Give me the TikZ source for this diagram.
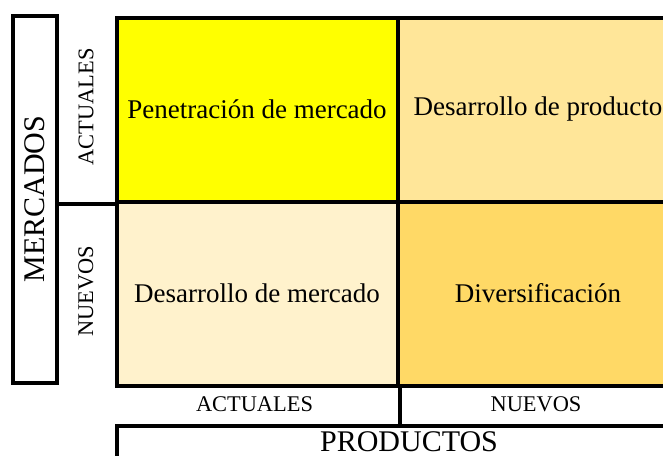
\documentclass[tikz,border=0pt]{standalone}
\usepackage{fontspec}
\setmainfont{Liberation Serif}
\definecolor{cPM}{HTML}{FFFF00}
\definecolor{cDP}{HTML}{FFE699}
\definecolor{cDM}{HTML}{FFF2CC}
\definecolor{cDV}{HTML}{FFD966}
\begin{document}
\begin{tikzpicture}[x=1pt,y=-1pt,
  cell/.style={draw=black,line width=4pt,inner sep=0pt,anchor=north west,
    minimum width=281pt,minimum height=184pt,font=\rmfamily\fontsize{27}{32}\selectfont},
  lbl/.style={inner sep=0pt,font=\rmfamily\fontsize{22.4}{26}\selectfont},
  big/.style={draw=black,line width=4pt,inner sep=0pt,font=\rmfamily\fontsize{30}{35}\selectfont}]
\useasboundingbox (0,0) rectangle (663,455);
\node[cell,fill=cPM] (pm) at (114.5,15.5) {Penetración de mercado};
\node[cell,fill=cDP] (dp) at (395.5,15.5) {Desarrollo de producto};
\node[cell,fill=cDM] (dm) at (114.5,199.5) {Desarrollo de mercado};
\node[cell,fill=cDV] (dv) at (395.5,199.5) {Diversificación};
\node[big,rotate=90,minimum width=367pt,minimum height=44pt] (merc) at (34.5,199) {MERCADOS};
\node[lbl,rotate=90] (ma) at (86,107) {ACTUALES};
\node[lbl,rotate=90] (mn) at (86,291) {NUEVOS};
\node[lbl] (pa) at (254.5,404) {ACTUALES};
\node[lbl] (pn) at (536,404) {NUEVOS};
\node[big,anchor=north west,minimum width=585pt,text height=26pt,text depth=14pt] (prod) at (114.5,423.5) {PRODUCTOS};
\draw[line width=4pt] (merc.south |- pm.south west) -- (pm.south west);
\draw[line width=4pt] (dm.south east) -- (dm.south east |- prod.north);
\end{tikzpicture}
\end{document}
